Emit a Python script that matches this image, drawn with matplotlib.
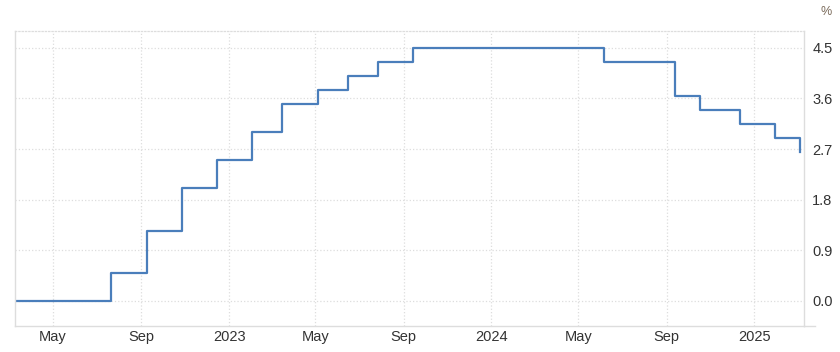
import matplotlib
matplotlib.use("Agg")
import matplotlib.pyplot as plt
import matplotlib.dates as mdates
import numpy as np
from datetime import datetime

# ECB-style policy rate decisions (date of change, new rate in %)
decision_dates = ["2022-03-10", "2022-07-21", "2022-09-08", "2022-10-27", "2022-12-15",
                  "2023-02-02", "2023-03-16", "2023-05-04", "2023-06-15", "2023-07-27",
                  "2023-09-14", "2024-06-06", "2024-09-12", "2024-10-17", "2024-12-12",
                  "2025-01-30", "2025-03-06"]
rates = [0.0, 0.5, 1.25, 2.0, 2.5,
         3.0, 3.5, 3.75, 4.0, 4.25,
         4.5, 4.25, 3.65, 3.4, 3.15,
         2.9, 2.65]

y_ticks = [0.0, 0.9, 1.8, 2.7, 3.6, 4.5]
x_tick_dates = ["2022-05-01", "2022-09-01", "2023-01-01", "2023-05-01", "2023-09-01",
                "2024-01-01", "2024-05-01", "2024-09-01", "2025-01-01"]
x_tick_labels = ["May", "Sep", "2023", "May", "Sep", "2024", "May", "Sep", "2025"]

plt.rcParams['font.family'] = ['Liberation Sans', 'DejaVu Sans']

dates = [datetime.strptime(d, "%Y-%m-%d") for d in decision_dates]
xt = [datetime.strptime(d, "%Y-%m-%d") for d in x_tick_dates]

fig = plt.figure(figsize=(8.4, 3.52), dpi=100)
ax = fig.add_axes([15 / 840, (352 - 326) / 352, (804 - 15) / 840, (326 - 31) / 352])

ax.plot(dates, rates, drawstyle='steps-post', color='#4a7ebb', lw=1.6)

ax.set_xlim(datetime(2022, 3, 9), datetime(2025, 3, 11))
ax.set_ylim(-0.445, 4.8)

ax.set_xticks(xt)
ax.set_xticklabels(x_tick_labels)
ax.set_yticks(y_ticks)
ax.set_yticklabels([f"{v:.1f}" for v in y_ticks])
ax.yaxis.tick_right()
ax.tick_params(axis='both', length=0, labelsize=10.5, colors='#333333')
ax.tick_params(axis='x', pad=3)
ax.tick_params(axis='y', pad=6)

ax.grid(True, color='#dddddd', linestyle=':', linewidth=0.9)
ax.set_axisbelow(True)

for side in ['left', 'right', 'bottom']:
    ax.spines[side].set_color('#dddddd')
    ax.spines[side].set_linewidth(1)
ax.spines['top'].set_color('#dddddd')
ax.spines['top'].set_linestyle(':')
ax.spines['top'].set_linewidth(0.9)

# bottom axis line runs a little past the right spine
fig.add_artist(plt.Line2D([804 / 840, 815 / 840], [(352 - 326) / 352] * 2,
                          color='#dddddd', lw=1))

fig.text(826 / 840, 1 - 12 / 352, "%", fontsize=9, color='#7a6a5a', ha='center', va='center')

fig.savefig("out.png", dpi=100)
